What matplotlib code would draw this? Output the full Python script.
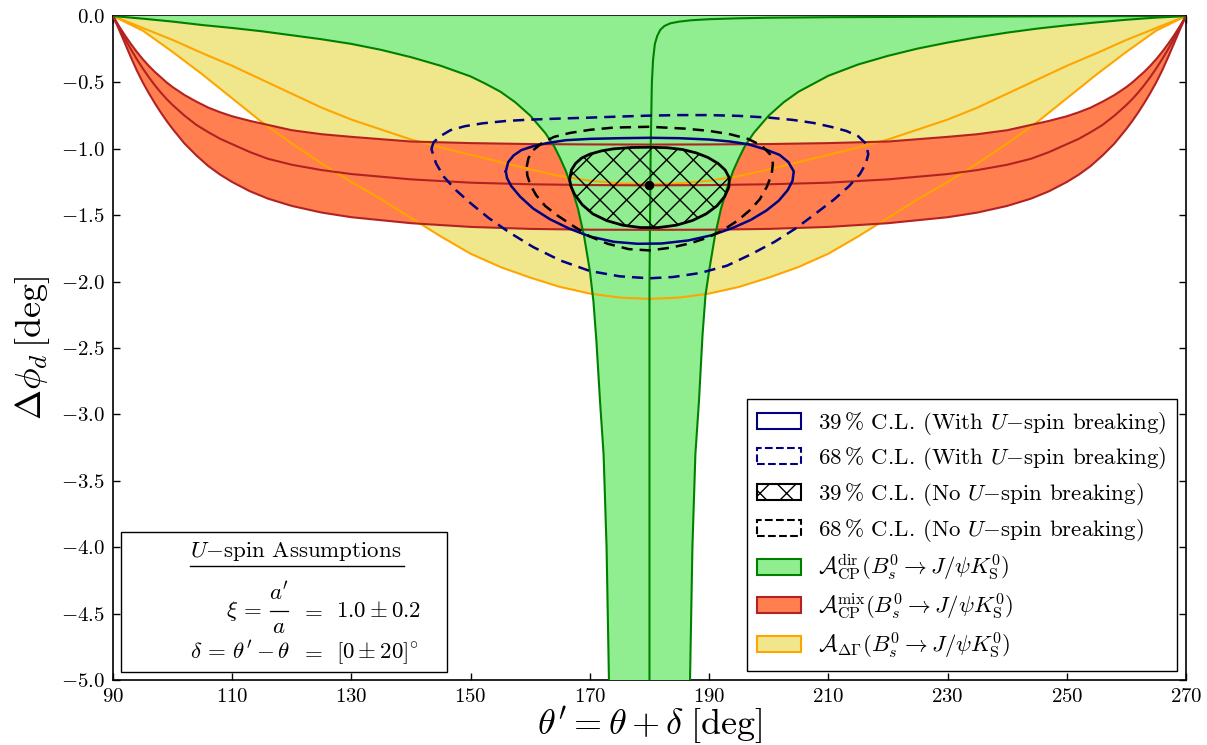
import matplotlib
matplotlib.use("Agg")
import matplotlib.pyplot as plt
from matplotlib.patches import Patch, Rectangle
from matplotlib.ticker import FuncFormatter

# canvas is rendered at 80 dpi (gives a tighter cross hatch); sizes below are
# written for 100 dpi and scaled by K
DPI = 80
K = 100 / DPI

plt.rcParams["font.family"] = ["cmr10"]
plt.rcParams["mathtext.fontset"] = "cm"
plt.rcParams["axes.unicode_minus"] = False
plt.rcParams["hatch.linewidth"] = 1.0 * K

# A_CP^dir band: left and right edges of the allowed region, plus central value
dir_left_x = [90, 95, 100, 105, 110, 115, 120, 125, 130, 135, 140, 145, 150, 152.5, 155,
              157.5, 160, 162.5, 164, 165, 166, 167, 168, 169, 170, 170.6, 171.1, 171.7,
              172.3, 172.8, 173.2]
dir_left_y = [0, -0.02, -0.042, -0.068, -0.09, -0.115, -0.145, -0.175, -0.21, -0.255, -0.31,
              -0.375, -0.455, -0.51, -0.57, -0.65, -0.75, -0.88, -0.98, -1.07, -1.17, -1.30,
              -1.45, -1.65, -1.92, -2.15, -2.45, -2.9, -3.3, -4.0, -5.0]
dir_right_x = [186.8, 187.2, 187.7, 188.3, 188.9, 189.4, 190, 191, 192, 193, 194, 195, 196,
               197.5, 200, 202.5, 205, 207.5, 210, 215, 220, 225, 230, 235, 240, 245, 250,
               255, 260, 265, 270]
dir_right_y = [-5.0, -4.0, -3.3, -2.9, -2.4, -2.1, -1.92, -1.65, -1.45, -1.30, -1.17, -1.07,
               -0.98, -0.88, -0.75, -0.65, -0.57, -0.51, -0.45, -0.365, -0.30, -0.245, -0.20,
               -0.16, -0.125, -0.095, -0.07, -0.048, -0.028, -0.012, 0]
dir_mid_x = [180, 180, 180.2, 180.4, 180.6, 180.9, 181.3, 181.8, 182.5, 183.5, 185, 187, 190,
             195, 200, 210, 230, 250, 270]
dir_mid_y = [-5.0, -2.0, -1.0, -0.5, -0.33, -0.21, -0.15, -0.105, -0.075, -0.055, -0.042,
             -0.032, -0.024, -0.017, -0.013, -0.009, -0.005, -0.002, 0]

# A_CP^mix band
mix_x = [90, 91, 92, 93, 94, 95, 96, 97, 98, 99, 100, 102, 104, 106, 108, 110, 113, 116, 120,
         125, 130, 140, 150, 160, 170, 180, 190, 200, 210, 220, 230, 235, 240, 244, 247, 250,
         252, 254, 256, 258, 260, 261, 262, 263, 264, 265, 266, 267, 268, 269, 270]
mix_hi_y = [0, -0.075, -0.145, -0.21, -0.27, -0.325, -0.375, -0.42, -0.46, -0.50, -0.535,
            -0.595, -0.645, -0.69, -0.725, -0.755, -0.79, -0.82, -0.86, -0.89, -0.91, -0.945,
            -0.957, -0.964, -0.967, -0.968, -0.967, -0.964, -0.957, -0.945, -0.91, -0.89,
            -0.86, -0.82, -0.79, -0.755, -0.725, -0.69, -0.645, -0.595, -0.535, -0.50, -0.46,
            -0.42, -0.375, -0.325, -0.27, -0.21, -0.145, -0.075, 0]
mix_mid_y = [0, -0.085, -0.17, -0.25, -0.325, -0.395, -0.46, -0.52, -0.575, -0.625, -0.67,
             -0.75, -0.82, -0.875, -0.925, -0.965, -1.025, -1.075, -1.12, -1.16, -1.19, -1.23,
             -1.255, -1.267, -1.273, -1.275, -1.273, -1.267, -1.255, -1.23, -1.19, -1.16,
             -1.12, -1.075, -1.025, -0.965, -0.925, -0.875, -0.82, -0.75, -0.67, -0.625,
             -0.575, -0.52, -0.46, -0.395, -0.325, -0.25, -0.17, -0.085, 0]
mix_lo_y = [0, -0.10, -0.205, -0.31, -0.41, -0.50, -0.58, -0.655, -0.725, -0.79, -0.85, -0.96,
            -1.05, -1.13, -1.195, -1.25, -1.32, -1.375, -1.43, -1.48, -1.515, -1.56, -1.588,
            -1.603, -1.609, -1.61, -1.609, -1.603, -1.588, -1.56, -1.515, -1.48, -1.43, -1.375,
            -1.32, -1.25, -1.195, -1.13, -1.05, -0.96, -0.85, -0.79, -0.725, -0.655, -0.58,
            -0.50, -0.41, -0.31, -0.205, -0.10, 0]

# A_DeltaGamma band
dg_x = [90, 95, 100, 105, 110, 115, 120, 125, 130, 135, 140, 145, 150, 155, 160, 165, 170, 175,
        180, 185, 190, 195, 200, 205, 210, 215, 220, 225, 230, 235, 240, 245, 250, 255, 260,
        265, 270]
dg_mid_y = [0, -0.09, -0.18, -0.28, -0.375, -0.48, -0.585, -0.69, -0.78, -0.855, -0.93, -0.99,
            -1.045, -1.10, -1.155, -1.205, -1.24, -1.26, -1.267, -1.26, -1.24, -1.205, -1.155,
            -1.10, -1.045, -0.99, -0.93, -0.855, -0.78, -0.69, -0.585, -0.48, -0.375, -0.28,
            -0.18, -0.09, 0]
dg_lo_y = [0, -0.11, -0.27, -0.44, -0.62, -0.80, -0.96, -1.11, -1.25, -1.38, -1.52, -1.66,
           -1.79, -1.89, -1.97, -2.04, -2.09, -2.12, -2.13, -2.12, -2.09, -2.04, -1.97, -1.89,
           -1.79, -1.66, -1.52, -1.38, -1.25, -1.11, -0.96, -0.80, -0.62, -0.44, -0.27, -0.11, 0]

# fit contours (closed loops)
cl39_u_x = [155.9, 156.3, 157.2, 158.5, 160.5, 163, 166, 170, 175, 180, 185, 190, 193.5, 196.5,
            199.5, 201.8, 203.3, 204.2, 204, 203.2, 201.7, 199.6, 197, 194, 190.5, 186.5, 182,
            178, 174, 170, 166.5, 163.3, 160.5, 158.3, 156.8, 156.1, 155.9]
cl39_u_y = [-1.17, -1.10, -1.05, -1.01, -0.98, -0.955, -0.935, -0.925, -0.92, -0.917, -0.92,
            -0.93, -0.945, -0.965, -1.005, -1.045, -1.10, -1.17, -1.24, -1.31, -1.39, -1.465,
            -1.535, -1.595, -1.65, -1.69, -1.713, -1.715, -1.70, -1.66, -1.60, -1.53, -1.45,
            -1.36, -1.28, -1.22, -1.17]
cl68_u_x = [143.4, 143.8, 144.9, 146.6, 149, 152, 156, 160, 165, 170, 175, 180, 185, 190, 195,
            200, 204, 207.5, 210.5, 213, 215, 216.3, 216.7, 216.3, 215.3, 213.5, 211, 207.5,
            204.5, 201, 197, 193, 188.5, 184, 180, 175, 170, 165, 160.5, 156.5, 153, 150,
            147.5, 145.5, 144.2, 143.4]
cl68_u_y = [-1.0, -0.95, -0.905, -0.86, -0.83, -0.808, -0.79, -0.78, -0.772, -0.765, -0.757,
            -0.75, -0.746, -0.746, -0.752, -0.765, -0.782, -0.805, -0.835, -0.865, -0.905,
            -0.96, -1.04, -1.11, -1.19, -1.28, -1.38, -1.50, -1.60, -1.70, -1.795, -1.88,
            -1.935, -1.965, -1.975, -1.96, -1.92, -1.84, -1.74, -1.63, -1.52, -1.41, -1.31,
            -1.21, -1.11, -1.0]
cl39_x = [166.6, 166.9, 167.6, 168.6, 170, 172, 174, 177, 180, 183, 185.5, 187.8, 189.8, 191.5,
          192.7, 193.4, 193.3, 192.6, 191.3, 189.5, 187.2, 184.5, 181.5, 178.5, 175.5, 172.8,
          170.5, 168.7, 167.4, 166.8, 166.6]
cl39_y = [-1.23, -1.16, -1.11, -1.07, -1.04, -1.015, -1.0, -0.99, -0.988, -0.992, -1.005, -1.03,
          -1.065, -1.11, -1.16, -1.22, -1.29, -1.36, -1.43, -1.49, -1.54, -1.575, -1.593,
          -1.593, -1.575, -1.54, -1.49, -1.42, -1.34, -1.28, -1.23]
cl68_x = [159.4, 159.7, 160.5, 162, 164, 166.7, 170, 174, 180, 186, 190, 193.5, 196.5, 198.8,
          200.2, 200.7, 200.5, 199.7, 198.5, 196.9, 194.8, 192.4, 189.7, 186.8, 183.5, 180,
          176.5, 173, 170, 167, 164.5, 162.5, 161, 160, 159.5, 159.4]
cl68_y = [-1.135, -1.07, -1.01, -0.955, -0.91, -0.88, -0.857, -0.84, -0.834, -0.848, -0.865,
          -0.89, -0.925, -0.975, -1.04, -1.11, -1.19, -1.285, -1.38, -1.46, -1.54, -1.61, -1.67,
          -1.712, -1.745, -1.765, -1.755, -1.715, -1.66, -1.575, -1.50, -1.43, -1.35, -1.27,
          -1.20, -1.135]
best_fit = (180.0, -1.275)

x_ticks = [90, 110, 130, 150, 170, 190, 210, 230, 250, 270]
y_ticks = [0.0, -0.5, -1.0, -1.5, -2.0, -2.5, -3.0, -3.5, -4.0, -4.5, -5.0]

legend_labels = [
    r"$39\,\%$ C.L. (With $U{-}$spin breaking)",
    r"$68\,\%$ C.L. (With $U{-}$spin breaking)",
    r"$39\,\%$ C.L. (No $U{-}$spin breaking)",
    r"$68\,\%$ C.L. (No $U{-}$spin breaking)",
    r"$\mathcal{A}_{\mathrm{CP}}^{\mathrm{dir}}(B_s^0\to J/\psi K_{\mathrm{S}}^0)$",
    r"$\mathcal{A}_{\mathrm{CP}}^{\mathrm{mix}}(B_s^0\to J/\psi K_{\mathrm{S}}^0)$",
    r"$\mathcal{A}_{\Delta\Gamma}(B_s^0\to J/\psi K_{\mathrm{S}}^0)$",
]

fig = plt.figure(figsize=(1207 / DPI, 745 / DPI), dpi=DPI)
ax = fig.add_axes([0.0936, 0.0872, 0.8890, 0.8913])

# bands: yellow below red below green
ax.fill(dg_x, dg_lo_y, facecolor="khaki", lw=0, zorder=1)
ax.fill(mix_x + mix_x[::-1], mix_hi_y + mix_lo_y[::-1], facecolor="coral", lw=0, zorder=2)
ax.fill(dir_left_x + dir_right_x, dir_left_y + dir_right_y, facecolor="lightgreen", lw=0,
        zorder=3)

lw = 1.5 * K
ax.plot(dg_x, dg_mid_y, color="orange", lw=lw, zorder=4)
ax.plot(dg_x, dg_lo_y, color="orange", lw=lw, zorder=4)
for yy in (mix_hi_y, mix_mid_y, mix_lo_y):
    ax.plot(mix_x, yy, color="firebrick", lw=lw, zorder=4)
ax.plot(dir_left_x, dir_left_y, color="green", lw=lw, zorder=4)
ax.plot(dir_right_x, dir_right_y, color="green", lw=lw, zorder=4)
ax.plot(dir_mid_x, dir_mid_y, color="green", lw=lw, zorder=4)

dash = (0, (4.5, 2.8))
ax.plot(cl68_u_x, cl68_u_y, color="navy", lw=1.8 * K, ls=dash, zorder=5)
ax.plot(cl39_u_x, cl39_u_y, color="navy", lw=1.8 * K, zorder=5)
ax.plot(cl68_x, cl68_y, color="black", lw=1.8 * K, ls=dash, zorder=5)
ax.fill(cl39_x, cl39_y, facecolor="none", edgecolor="black", hatch="x", lw=2 * K, zorder=5)
ax.plot(*best_fit, "o", color="black", ms=6 * K, zorder=6)

ax.set_xlim(90, 270)
ax.set_ylim(-5, 0)
ax.set_xticks(x_ticks)
ax.set_yticks(y_ticks)
ax.xaxis.set_major_formatter(FuncFormatter(lambda v, p: rf"${v:.0f}$"))
ax.yaxis.set_major_formatter(FuncFormatter(lambda v, p: rf"${v:.1f}$"))
ax.tick_params(direction="in", top=True, right=True, length=5 * K, width=1 * K,
               labelsize=15 * K, pad=6 * K)
for sp in ax.spines.values():
    sp.set_linewidth(1.2 * K)

ax.set_xlabel(r"$\theta' = \theta + \delta\;[\mathrm{deg}]$", fontsize=26 * K, labelpad=-1 * K)
ax.set_ylabel(r"$\Delta\phi_d\,[\mathrm{deg}]$", fontsize=26 * K, labelpad=6 * K)

handles = [
    Patch(facecolor="white", edgecolor="navy", lw=1.5 * K),
    Patch(facecolor="white", edgecolor="navy", lw=1.5 * K, ls="dashed"),
    Patch(facecolor="white", edgecolor="black", lw=1.5 * K, hatch="x"),
    Patch(facecolor="white", edgecolor="black", lw=1.5 * K, ls="dashed"),
    Patch(facecolor="lightgreen", edgecolor="green", lw=1.5 * K),
    Patch(facecolor="coral", edgecolor="firebrick", lw=1.5 * K),
    Patch(facecolor="khaki", edgecolor="orange", lw=1.5 * K),
]
leg = ax.legend(handles, legend_labels, loc="lower right", fontsize=16.5 * K, fancybox=False,
                framealpha=1, edgecolor="black", borderaxespad=0.4, handletextpad=0.75,
                labelspacing=0.38, handlelength=1.9, borderpad=0.45)
leg.get_frame().set_linewidth(1.0 * K)
leg.set_zorder(10)

# assumptions box in the lower left corner
tr = ax.transAxes
fs = 16.5 * K
ax.add_patch(Rectangle((0.0075, 0.012), 0.3035, 0.211, transform=tr,
                       facecolor="white", edgecolor="black", lw=1.0 * K, zorder=8))
ax.text(0.1706, 0.185, r"$U{-}$spin Assumptions", transform=tr, fontsize=fs,
        ha="center", va="baseline", zorder=9)
ax.plot([0.0718, 0.271], [0.172, 0.172], transform=tr, color="black", lw=1 * K, zorder=9)

# xi = a'/a, written as a stacked fraction
ax.text(0.1389, 0.095, r"$\xi\,=$", transform=tr, fontsize=fs, ha="right", va="baseline",
        zorder=9)
ax.text(0.1547, 0.121, r"$a'$", transform=tr, fontsize=fs, ha="center", va="baseline",
        zorder=9)
ax.text(0.1547, 0.071, r"$a$", transform=tr, fontsize=fs, ha="center", va="baseline",
        zorder=9)
ax.plot([0.1463, 0.1631], [0.1035, 0.1035], transform=tr, color="black", lw=0.9 * K, zorder=9)

ax.text(0.165, 0.033, r"$\delta\,=\,\theta' - \theta$", transform=tr, fontsize=fs,
        ha="right", va="baseline", zorder=9)
for yb in (0.095, 0.033):
    ax.text(0.1845, yb, r"$=$", transform=tr, fontsize=fs, ha="center", va="baseline",
            zorder=9)
ax.text(0.2078, 0.095, r"$1.0 \pm 0.2$", transform=tr, fontsize=fs, ha="left",
        va="baseline", zorder=9)
ax.text(0.2078, 0.033, r"$[0 \pm 20]^{\circ}$", transform=tr, fontsize=fs, ha="left",
        va="baseline", zorder=9)

fig.savefig("out.png", dpi=DPI)
